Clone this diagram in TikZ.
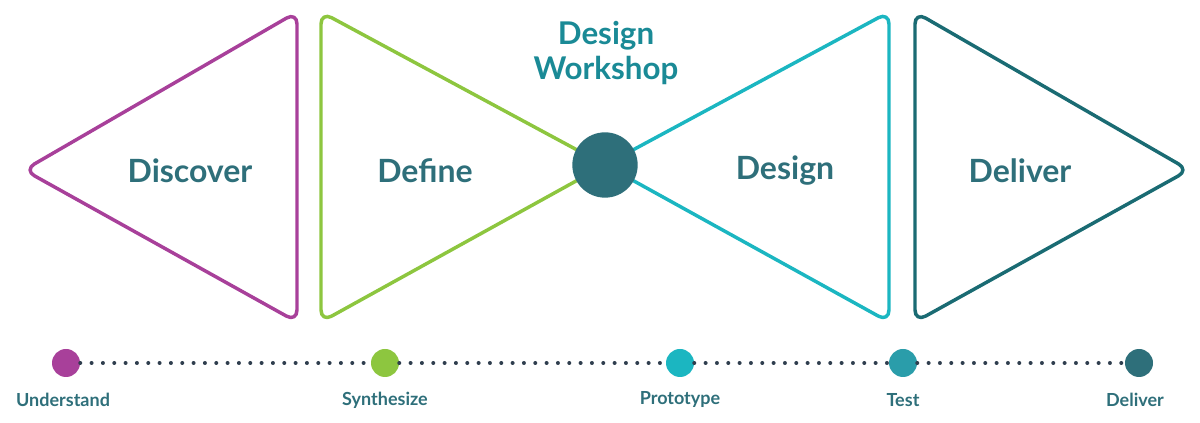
\documentclass[tikz,border=0pt]{standalone}
\usepackage{fontspec}
\setmainfont{Lato}
\definecolor{cpur}{HTML}{A8409A}
\definecolor{cgrn}{HTML}{8DC63F}
\definecolor{ccya}{HTML}{1BB6C1}
\definecolor{cdel}{HTML}{1A6B73}
\definecolor{ctxt}{HTML}{2E6F7A}
\definecolor{cws}{HTML}{1A8A96}
\definecolor{ctst}{HTML}{2A9DAA}
\definecolor{cdot}{HTML}{2F3E4E}
\begin{document}
\begin{tikzpicture}[x=0.75pt,y=-0.75pt,
  tri/.style={line width=2.6pt,rounded corners=9pt,line join=round},
  big/.style={font=\fontsize{24}{28}\selectfont\bfseries,text=ctxt},
  small/.style={font=\fontsize{13.5}{16}\selectfont\bfseries,text=ctxt},
  stage/.style={circle,minimum size=21pt,inner sep=0pt},
  dots/.style={cdot,line width=3pt,line cap=round,dash pattern=on 0pt off 8.5pt}]
\useasboundingbox (0,0) rectangle (1200,423);
\draw[tri,cpur] (24,170) -- (297,12) -- (297,322) -- cycle;
\draw[tri,cgrn] (605,165) -- (321,12) -- (321,322) -- cycle;
\draw[tri,ccya] (605,165) -- (889,12) -- (889,322) -- cycle;
\draw[tri,cdel] (1189,170) -- (915,12) -- (915,322) -- cycle;
\node[circle,fill=ctxt,minimum size=49pt,inner sep=0pt] (ws) at (605,165) {};
\node[big] (t1) at (190,171) {Discover};
\node[big] (t2) at (425,171) {Define};
\node[big] (t3) at (785,171) {Design};
\node[big] (t4) at (1020,171) {Deliver};
\node[font=\fontsize{23.5}{26}\selectfont\bfseries,text=cws,align=center] (wt) at (606,53) {Design\\Workshop};
\node[stage,fill=cpur] (s1) at (66,363) {};
\node[stage,fill=cgrn] (s2) at (385,363) {};
\node[stage,fill=ccya] (s3) at (680,363) {};
\node[stage,fill=ctst] (s4) at (903,363) {};
\node[stage,fill=ctxt] (s5) at (1139,363) {};
\draw[dots] (s1) -- (s2); \draw[dots] (s2) -- (s3);
\draw[dots] (s3) -- (s4); \draw[dots] (s4) -- (s5);
\node[small] (l1) at (63,400) {Understand};
\node[small] (l2) at (385,400) {Synthesize};
\node[small] (l3) at (680,400) {Prototype};
\node[small] (l4) at (903,400) {Test};
\node[small] (l5) at (1135,400) {Deliver};
\end{tikzpicture}
\end{document}
